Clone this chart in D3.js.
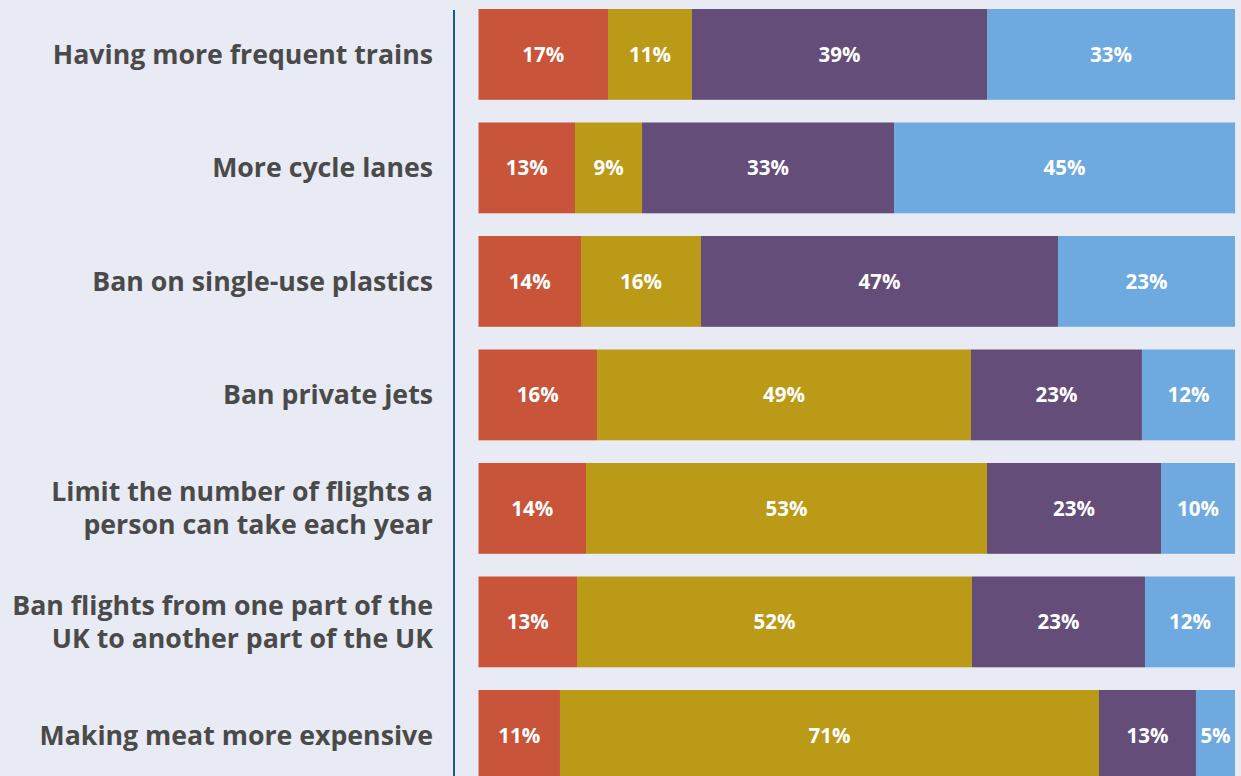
<!DOCTYPE html>
<html><head><meta charset="utf-8">
<script src="https://cdn.jsdelivr.net/npm/d3@7"></script>
<style>
html,body{margin:0;padding:0;background:#e8eaf4;overflow:hidden;}
svg{display:block;}
</style></head>
<body>
<script>
const categories = [
  "Having more frequent trains",
  "More cycle lanes",
  "Ban on single-use plastics",
  "Ban private jets",
  "Limit the number of flights a|person can take each year",
  "Ban flights from one part of the|UK to another part of the UK",
  "Making meat more expensive"
];
const seriesNames = ["s1","s2","s3","s4"];
// shares (%) as drawn; labels show them rounded
const s1 = [17.12,12.76,13.55,15.66,14.21,13.02,10.77];
const s2 = [11.10,8.86,15.86,49.44,53.01,52.21,71.25];
const s3 = [39.00,33.31,47.19,22.60,23.00,22.87,12.82];
const s4 = [32.78,45.08,23.40,12.30,9.78,11.90,5.16];
const colors = ["#c8553a","#bb9a17","#644d78","#6eaadf"];

const W = 1241, H = 776;
const FONT = "'Open Sans', Lato, sans-serif";
const svg = d3.select("body").append("svg").attr("width",W).attr("height",H);
svg.append("rect").attr("width",W).attr("height",H).attr("fill","#e8eaf4");

const x = d3.scaleLinear().domain([0,100]).range([478.5,1235]);
const y = d3.scaleBand().domain(categories).range([9, 9+7*113.5-0.2*113.5]).paddingInner(0.2).paddingOuter(0);

const stackData = categories.map((c,i)=>({cat:c, s1:s1[i], s2:s2[i], s3:s3[i], s4:s4[i]}));
const stacked = d3.stack().keys(seriesNames)(stackData);
const fmt = d3.format(".0f");

const g = svg.append("g");
stacked.forEach((layer,j)=>{
  const lg = g.append("g").attr("fill",colors[j]);
  lg.selectAll("rect").data(layer).join("rect")
    .attr("x",d=>x(d[0])).attr("width",d=>x(d[1])-x(d[0]))
    .attr("y",d=>y(d.data.cat)).attr("height",y.bandwidth());
  lg.selectAll("text").data(layer).join("text")
    .attr("x",d=>(x(d[0])+x(d[1]))/2)
    .attr("y",d=>y(d.data.cat)+y.bandwidth()/2)
    .attr("dy","0.36em")
    .attr("text-anchor","middle")
    .attr("fill","#fff")
    .attr("font-family",FONT)
    .attr("font-weight","bold")
    .attr("font-size",20.5)
    .text(d=>fmt(d[1]-d[0])+"%");
});

// axis line
svg.append("line").attr("x1",454).attr("x2",454).attr("y1",10).attr("y2",H)
  .attr("stroke","#1a5a8c").attr("stroke-width",2);

// category labels
const lab = svg.append("g");
categories.forEach(c=>{
  const lines = c.split("|");
  const cy = y(c)+y.bandwidth()/2;
  const lh = 33;
  const t = lab.append("text")
    .attr("text-anchor","end")
    .attr("fill","#4a4a4a")
    .attr("font-family",FONT)
    .attr("font-weight","bold")
    .attr("font-size",26.7);
  lines.forEach((ln,k)=>{
    t.append("tspan").attr("x",433)
      .attr("y",cy + (k-(lines.length-1)/2)*lh)
      .attr("dy","0.35em").text(ln);
  });
});
</script>
</body></html>
